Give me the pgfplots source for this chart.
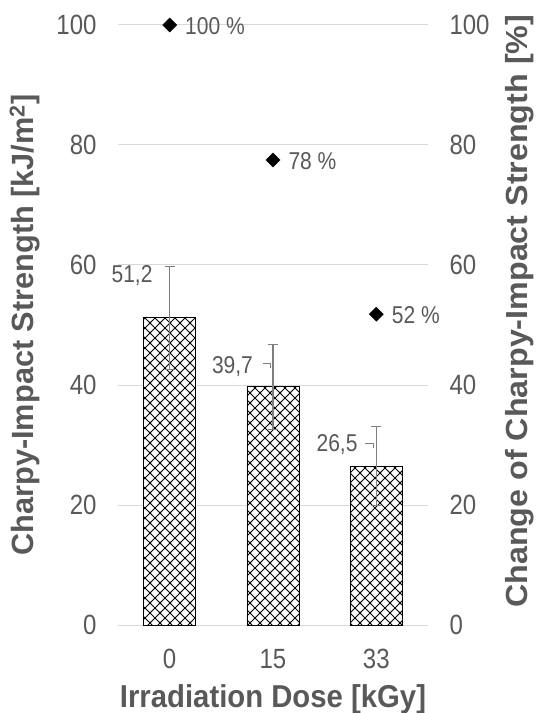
\documentclass[border=0pt]{standalone}
\usepackage{graphicx}
\usepackage{pgfplots}
\pgfplotsset{compat=1.18}
\usepackage{fontspec}
\setmainfont{Liberation Sans}
\usetikzlibrary{patterns.meta}
\definecolor{txt}{HTML}{595959}
\definecolor{grd}{HTML}{D9D9D9}
\definecolor{errc}{HTML}{7F7F7F}
\tikzdeclarepattern{
  name=diamondgrid,
  type=uncolored,
  bounding box={(-1pt,-1pt) and (11pt,11pt)},
  tile size={(10pt,10pt)},
  code={
    \draw[line width=0.8pt] (-1pt,-1pt) -- (11pt,11pt);
    \draw[line width=0.8pt] (-1pt,11pt) -- (11pt,-1pt);
  }
}
\newcommand{\tickfont}{\fontsize{24}{28}\selectfont}
\newcommand{\lblfont}{\fontsize{21}{25}\selectfont}
\newcommand{\vs}[1]{\scalebox{1}[1.16]{#1}}
\begin{document}
\begin{tikzpicture}
\begin{axis}[
  name=ax, at={(0,0)}, anchor=south west, clip=false,
  scale only axis, width=310pt, height=600pt,
  xmin=-0.5, xmax=2.5, ymin=0, ymax=100,
  xtick={0,1,2}, xticklabels={\vs{0},\vs{15},\vs{33}},
  ytick={0,20,...,100},
  yticklabel={\vs{\pgfmathprintnumber{\tick}}},
  ymajorgrids, grid style={grd, line width=1pt},
  axis line style={draw=none},
  major tick length=0pt,
  tick label style={font=\tickfont, text=txt},
  /pgf/number format/assume math mode=true,
  yticklabel shift=18pt,
  xticklabel style={anchor=base, yshift=-43pt},
  xlabel={\scalebox{1}[1.08]{Irradiation Dose [kGy]}},
  ylabel={Charpy-Impact Strength [kJ/m\textsuperscript{2}]},
  every axis x label/.style={at={(axis description cs:0.5,-0.1367)}, anchor=base, font=\fontsize{29.3}{33}\selectfont\bfseries, text=txt},
  every axis y label/.style={at={(axis description cs:-0.3,0.5)}, anchor=center, rotate=90, font=\fontsize{30.7}{34}\selectfont\bfseries, text=txt},
]
\addplot[ybar, bar width=52pt, draw=black, line width=0.8pt, fill=white,
  postaction={pattern=diamondgrid, pattern color=black},
  error bars/.cd, y dir=both, y explicit,
  error bar style={errc, line width=1.3pt},
  error mark options={rotate=90, mark size=5pt, errc, line width=1.3pt}]
  coordinates {(0,51.2) +- (0,8.6) (1,39.7) +- (0,7.1) (2,26.5) +- (0,6.6)};
\node[font=\lblfont, text=txt] at (axis cs:-0.364,58.3) {\vs{51,2}};
\node[font=\lblfont, text=txt] at (axis cs:0.608,43.0) {\vs{39,7}};
\node[font=\lblfont, text=txt] at (axis cs:1.62,30.0) {\vs{26,5}};
\draw[errc, line width=0.8pt] (axis cs:0.904,43.67) -- (axis cs:0.971,43.67) -- (axis cs:0.971,42.8);
\draw[errc, line width=0.8pt] (axis cs:1.891,30.3) -- (axis cs:1.969,30.3) -- (axis cs:1.969,29.5);
\end{axis}
\begin{axis}[
  at={(0,0)}, anchor=south west, clip=false,
  scale only axis, width=310pt, height=600pt,
  xmin=-0.5, xmax=2.5, ymin=0, ymax=100,
  axis x line=none, axis y line*=right,
  ytick={0,20,...,100},
  yticklabel={\vs{\pgfmathprintnumber{\tick}}},
  axis line style={draw=none},
  major tick length=0pt,
  tick label style={font=\tickfont, text=txt},
  /pgf/number format/assume math mode=true,
  yticklabel shift=18pt,
  ylabel={\scalebox{1.057}[1]{Change of Charpy-Impact Strength [\%]}},
  every axis y label/.style={at={(axis description cs:1.297,0.523)}, anchor=center, rotate=90, font=\fontsize{30.5}{34}\selectfont\bfseries, text=txt},
]
\addplot[only marks, mark=square*, mark size=5pt, mark options={rotate=45, fill=black, draw=black},
  nodes near coords={\vs{\pgfplotspointmeta}}, point meta=explicit symbolic,
  every node near coord/.append style={anchor=west, xshift=12pt, yshift=-1pt, font=\lblfont, text=txt}]
  coordinates {(0,100) [100 \%] (1,77.5) [78 \%] (2,51.8) [52 \%]};
\end{axis}
\pgfresetboundingbox
\path ([shift={(-118pt,-88pt)}]ax.south west) rectangle ([shift={(422pt,625pt)}]ax.south west);
\end{tikzpicture}
\end{document}
